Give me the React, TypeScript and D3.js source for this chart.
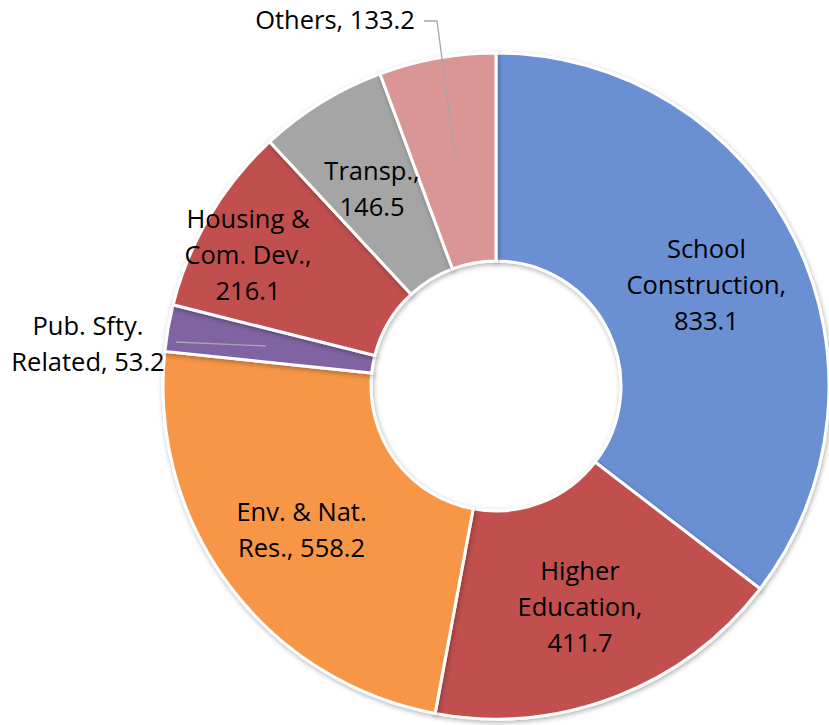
import React from 'react';
import * as d3 from 'd3';

const categories = ['School Construction', 'Higher Education', 'Env. & Nat. Res.', 'Pub. Sfty. Related', 'Housing & Com. Dev.', 'Transp.', 'Others'];
const values = [833.1, 411.7, 558.2, 53.2, 216.1, 146.5, 133.2];
const labelLines = [
  ['School', 'Construction,', '833.1'],
  ['Higher', 'Education,', '411.7'],
  ['Env. & Nat.', 'Res., 558.2'],
  ['Pub. Sfty.', 'Related, 53.2'],
  ['Housing &', 'Com. Dev.,', '216.1'],
  ['Transp.,', '146.5'],
  ['Others, 133.2'],
];
const colors = ['#6A8FD3', '#C0504D', '#F79646', '#8064A2', '#C0504D', '#A5A5A5', '#D99694'];

export default function App() {
  const width = 829;
  const height = 725;
  const cx = 496;
  const cy = 386;
  const outer = 333;
  const inner = 125;
  const lineH = 36;

  const pie = d3.pie<number>().sort(null).value((d) => d);
  const arcs = pie(values);
  const arc = d3.arc<d3.PieArcDatum<number>>().innerRadius(inner).outerRadius(outer);

  // label placement: inside slices at the centroid, with a few nudges; two outside with leaders
  const nudge: [number, number][] = [[5, 0], [2, 7], [-11, 7], [0, 0], [-51, -14], [-4, -2], [0, 0]];
  const outside: Record<number, { x: number; y: number; leader: [number, number][] }> = {
    3: { x: 88 - cx, y: 344 - cy, leader: [[176 - cx, 342 - cy], [266 - cx, 346 - cy]] },
    6: { x: 335 - cx, y: 20 - cy, leader: [[424 - cx, 21 - cy], [437 - cx, 21 - cy], [455 - cx, 157 - cy]] },
  };

  return (
    <svg width={width} height={height} style={{ position: 'absolute', left: 0, top: 0 }}>
      <defs>
        <filter id="sh" x="-10%" y="-10%" width="120%" height="120%">
          <feDropShadow dx="1" dy="2" stdDeviation="2.5" floodColor="#000" floodOpacity="0.3" />
        </filter>
      </defs>
      <g transform={`translate(${cx},${cy})`}>
        {arcs.map((a, i) => (
          <path key={categories[i]} d={arc(a) || ''} fill={colors[i]} stroke="#fff" strokeWidth={3} filter="url(#sh)" />
        ))}
        {arcs.map((a, i) => {
          const o = outside[i];
          const [x0, y0] = arc.centroid(a);
          const x = o ? o.x : x0 + nudge[i][0];
          const y = o ? o.y : y0 + nudge[i][1];
          const lines = labelLines[i];
          const top = y - ((lines.length - 1) * lineH) / 2;
          return (
            <g key={'l' + i}>
              {o && (
                <path d={d3.line()(o.leader) || ''} fill="none" stroke="#A6A6A6" strokeWidth={1.3} />
              )}
              <text textAnchor="middle" fontFamily="'Open Sans', sans-serif" fontSize={25.5} fill="#000">
                {lines.map((t, k) => (
                  <tspan key={k} x={x} y={top + k * lineH} dy="0.35em">{t}</tspan>
                ))}
              </text>
            </g>
          );
        })}
      </g>
    </svg>
  );
}
